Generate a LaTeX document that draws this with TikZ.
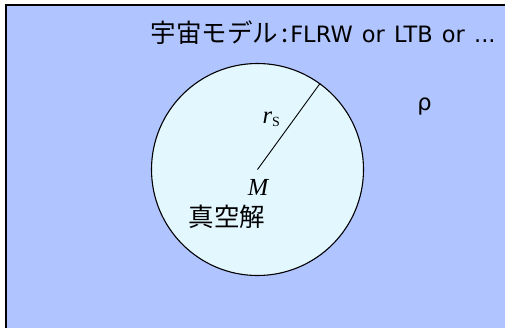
\documentclass[tikz,border=0pt]{standalone}
\usepackage{fontspec}
\setmainfont{DejaVu Sans}
\newfontfamily\jpfont{Noto Sans CJK JP}
\newfontfamily\tmsfont{Liberation Serif}
\definecolor{universe}{RGB}{176,196,255}
\definecolor{vacuum}{RGB}{227,247,255}
\newcommand{\wsp}{\hspace{9.2pt}}
\tikzset{
  lbl/.style={inner sep=0pt, font=\fontsize{22.5}{26}\selectfont},
  mathlbl/.style={inner sep=0pt, font=\tmsfont\itshape\fontsize{24.5}{26}\selectfont},
}
\begin{document}
\begin{tikzpicture}[x=1pt,y=-1pt]
\useasboundingbox (0,0) rectangle (505,327);
\clip (0,0) rectangle (505,327);
\fill[white] (0,0) rectangle (505,327);
\draw[line width=1.4pt, fill=universe] (6,5) rectangle (530,350);
\node[circle, draw, line width=1.1pt, fill=vacuum, minimum size=212pt, inner sep=0pt] (vac) at (257.5,169.5) {};
\draw[line width=0.9pt] (vac.center) -- (vac.54.3);
\node[lbl, anchor=base west] (title) at (150.5,42) {{\jpfont\fontsize{25.5}{28}\selectfont 宇宙モデル\hspace{3pt}:\hspace{2pt}}FLRW\wsp or\wsp LTB\wsp or\wsp ...};
\node[lbl, anchor=base] (rho) at (424.5,110) {ρ};
\node[mathlbl, anchor=base west] (rs) at (262.5,123) {r\raisebox{-0.3ex}{\upshape\fontsize{14}{15}\selectfont S}};
\node[mathlbl, anchor=base] (mass) at (258,195) {M};
\node[lbl, anchor=base west, font=\jpfont\fontsize{25.5}{28}\selectfont] (sol) at (188.5,226) {真空解};
\end{tikzpicture}
\end{document}
